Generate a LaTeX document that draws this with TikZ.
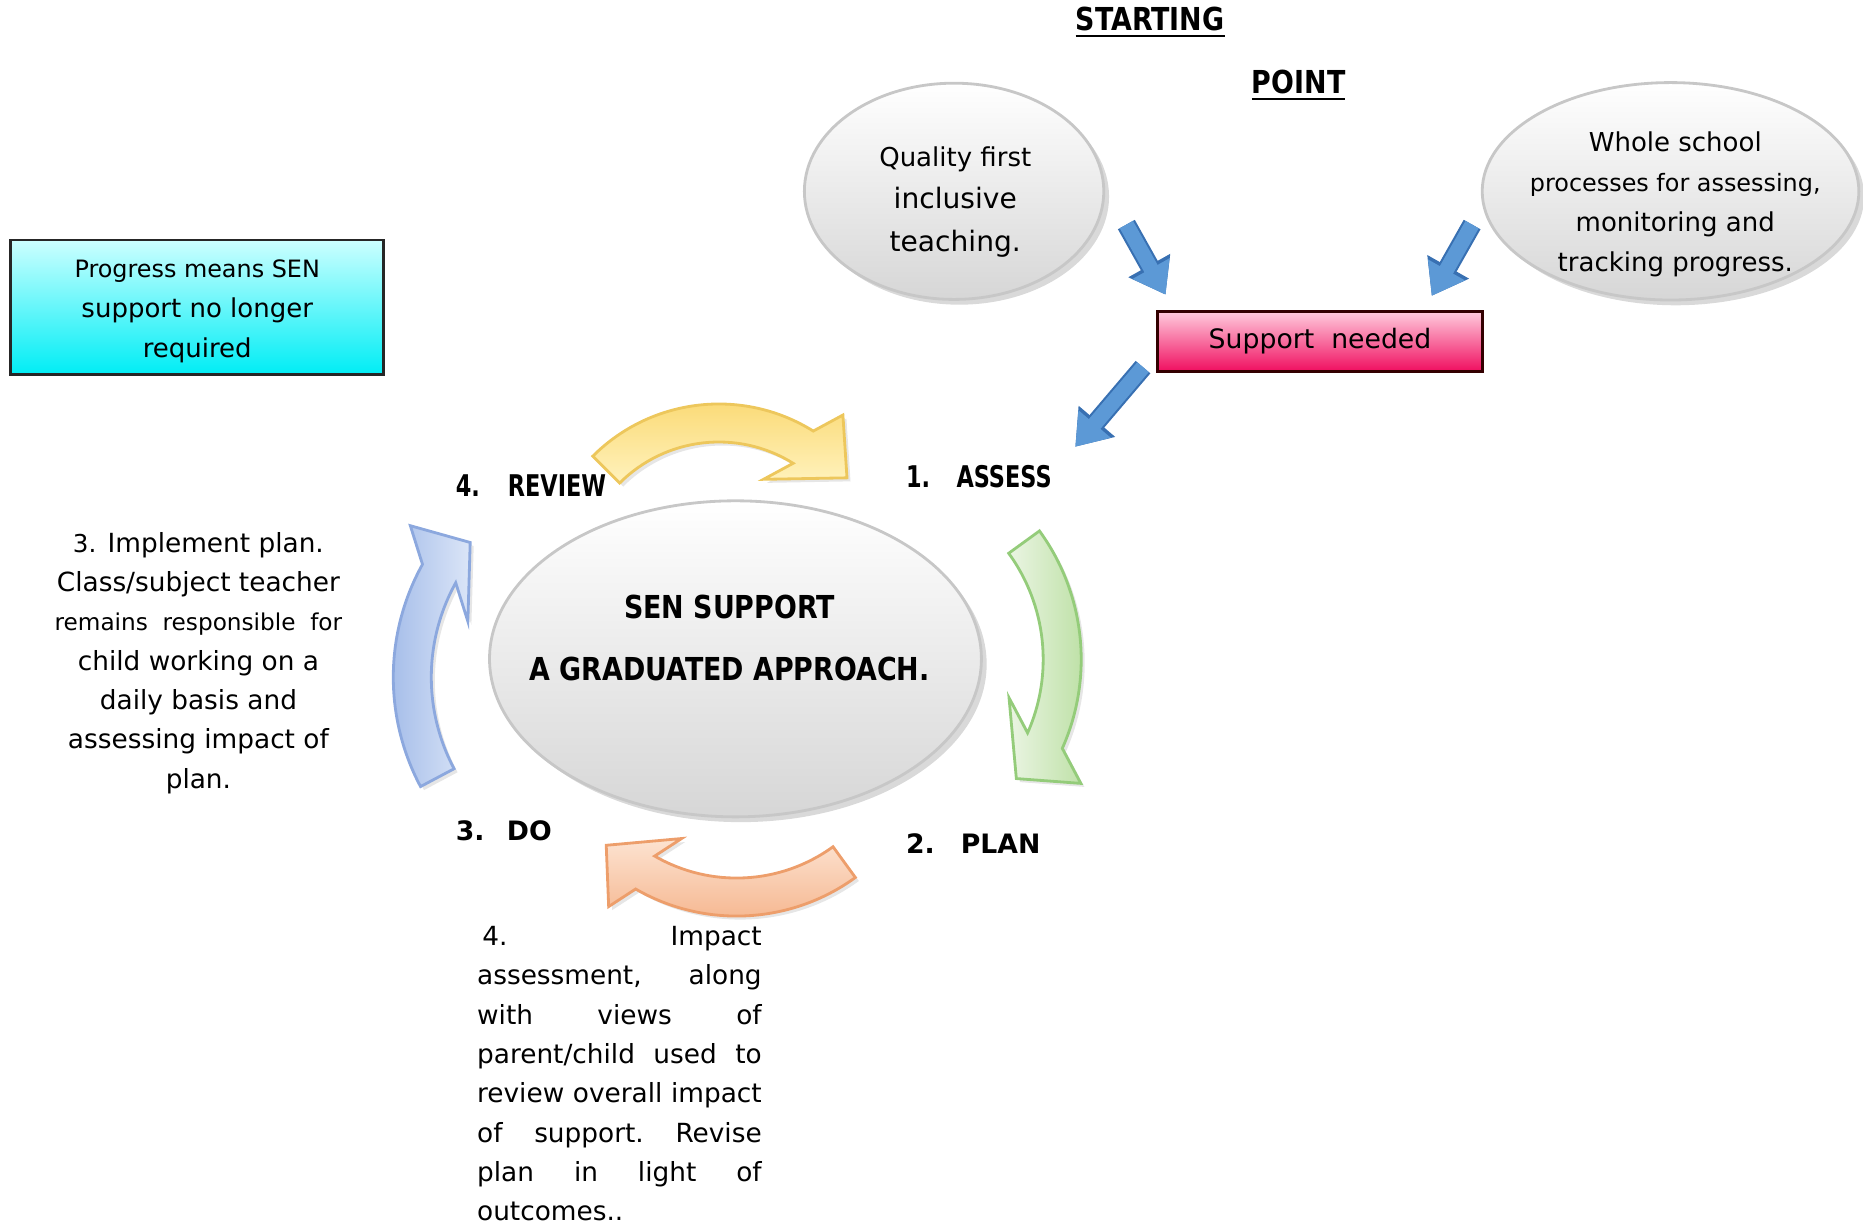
\documentclass[tikz,border=0pt]{standalone}
\usepackage{fontspec}
\setmainfont{DejaVu Sans}
\newfontfamily\headfont[FakeStretch=0.85]{DejaVu Sans}
\newfontfamily\stepfont[FakeStretch=0.75]{DejaVu Sans}
\usetikzlibrary{shapes.geometric, shadows, calc, positioning, arrows.meta}
\definecolor{bubbleedge}{rgb}{0.78, 0.78, 0.78}
\definecolor{bubblelow}{rgb}{0.84, 0.84, 0.84}
\definecolor{needtop}{rgb}{1, 0.80, 0.87}
\definecolor{needbottom}{rgb}{0.94, 0.05, 0.37}
\definecolor{donetop}{rgb}{0.80, 1, 1}
\definecolor{donebottom}{rgb}{0, 0.93, 0.96}
\definecolor{yelhi}{rgb}{1, 0.95, 0.74}
\definecolor{yello}{rgb}{0.98, 0.84, 0.42}
\definecolor{yeledge}{rgb}{0.93, 0.78, 0.36}
\definecolor{grnhi}{rgb}{0.92, 0.96, 0.89}
\definecolor{grnlo}{rgb}{0.72, 0.87, 0.62}
\definecolor{grnedge}{rgb}{0.58, 0.80, 0.48}
\definecolor{orghi}{rgb}{0.99, 0.89, 0.82}
\definecolor{orglo}{rgb}{0.96, 0.70, 0.54}
\definecolor{orgedge}{rgb}{0.93, 0.62, 0.42}
\definecolor{bluhi}{rgb}{0.86, 0.90, 0.97}
\definecolor{blulo}{rgb}{0.63, 0.73, 0.91}
\definecolor{bluedge}{rgb}{0.55, 0.66, 0.87}
\definecolor{ptrfill}{rgb}{0.36, 0.60, 0.84}
\definecolor{ptredge}{rgb}{0.22, 0.44, 0.70}

\newcommand{\upx}{0.01188cm}
\newcommand{\bandw}{16}
% curved block arrow: [style]{centre}{radius}{tail angle}{head angle}{barb half width}{barb angle}{tip angle}{tip length}
\newcommand{\cyclearrow}[9][]{%
  \pgfmathsetmacro\arcout{#3+\bandw}%
  \pgfmathsetmacro\arcin{#3-\bandw}%
  \pgfmathsetmacro\barbin{#7+180}%
  \path[#1] ($(#2)+(#4:\arcout)$) arc[start angle=#4, end angle=#5, radius=\arcout]
    -- ($(#2)+(#5:#3)+(#7:#6)$) -- ($(#2)+(#5:#3)+(#8:#9)$)
    -- ($(#2)+(#5:#3)+(\barbin:#6)$) -- ($(#2)+(#5:\arcin)$)
    arc[start angle=#5, end angle=#4, radius=\arcin] -- cycle;}

\begin{document}
\begin{tikzpicture}[x=\upx, y=-\upx,
    bubble/.style={ellipse, draw=bubbleedge, line width=0.8pt, top color=white, bottom color=bubblelow,
      drop shadow={opacity=0.3, shadow xshift=1.5pt, shadow yshift=-1.5pt}, inner sep=0pt},
    bodytext/.style={align=center, inner sep=0pt},
    title/.style={inner sep=0pt, font=\headfont\bfseries\fontsize{9}{11}\selectfont},
    steplabel/.style={anchor=west, inner sep=0pt, font=\stepfont\bfseries\fontsize{8.5}{10}\selectfont},
    steplabelwide/.style={anchor=west, inner sep=0pt, font=\bfseries\fontsize{7.6}{10}\selectfont},
    cyc/.style={line width=0.8pt, drop shadow={opacity=0.2, shadow xshift=1pt, shadow yshift=-1pt}},
    yelarrow/.style={cyc, draw=yeledge, top color=yello, bottom color=yelhi},
    grnarrow/.style={cyc, draw=grnedge, left color=grnhi, right color=grnlo},
    orgarrow/.style={cyc, draw=orgedge, top color=orghi, bottom color=orglo},
    bluarrow/.style={cyc, draw=bluedge, left color=blulo, right color=bluhi},
    pointer/.style={line width=4.3pt, draw=ptrfill, -{Triangle[length=8.5pt, width=11.5pt]},
      preaction={draw=ptredge, line width=5.5pt, -{Triangle[length=9.5pt, width=13pt]}}}]
    \useasboundingbox (0,0) rectangle (1568,1034);

    \node[title] (start) at (968,19) {\underline{STARTING}};
    \node[title] (point) at (1093,72) {\underline{POINT}};

    \node[bubble, minimum width=252*\upx, minimum height=182*\upx] (qft) at (803,161) {};
    \node[bodytext, font=\fontsize{8}{12.2}\selectfont] (qfttext) at (804,170)
        {{\fontsize{7.4}{12.2}\selectfont Quality first}\\inclusive\\teaching.};
    \node[bubble, minimum width=317*\upx, minimum height=183*\upx] (wsp) at (1406,161) {};
    \node[bodytext, font=\fontsize{7.4}{11.4}\selectfont] (wsptext) at (1410,172)
        {Whole school\\{\fontsize{6.8}{11.4}\selectfont processes for assessing,}\\monitoring and\\tracking progress.};

    \node[draw=black!80!red, line width=0.8pt, top color=needtop, bottom color=needbottom,
        minimum width=273*\upx, minimum height=51*\upx, inner sep=0pt,
        font=\fontsize{7.6}{10}\selectfont] (need) at (1111,287.5) {Support\ \ needed};
    \node[draw=black!85, line width=0.8pt, top color=donetop, bottom color=donebottom,
        minimum width=314*\upx, minimum height=113*\upx, inner sep=0pt, align=center,
        font=\fontsize{7.4}{11.3}\selectfont] (done) at (166,258.5) {};
    \node[bodytext, font=\fontsize{7.4}{11.3}\selectfont] (donetext) at (166,262)
        {{\fontsize{6.8}{11.3}\selectfont Progress means SEN}\\support no longer\\required};

    \coordinate (qfttail) at (948,189);
    \coordinate (qfthead) at (981,248);
    \coordinate (wsptail) at (1239,189);
    \coordinate (wsphead) at (1205,249);
    \coordinate (needtail) at (962,309);
    \coordinate (needhead) at (905,376);
    \draw[pointer] (qfttail) -- (qfthead);
    \draw[pointer] (wsptail) -- (wsphead);
    \draw[pointer] (needtail) -- (needhead);

    \node[bubble, minimum width=414*\upx, minimum height=266*\upx] (sen) at (619,554.5) {};
    \node[bodytext, font=\headfont\bfseries\fontsize{9}{17.9}\selectfont] (sentext) at (614,537)
        {SEN SUPPORT\\A GRADUATED APPROACH.};

    \cyclearrow[yelarrow]{605,490}{134}{225}{302}{43}{321}{35}{45}
    \cyclearrow[grnarrow]{726,555}{168}{-36}{24}{47}{50}{127}{40}
    \cyclearrow[orgarrow]{620,601}{154}{54}{120}{42}{137}{215}{40}
    \cyclearrow[bluarrow]{527,570}{180}{152}{209}{47}{239}{315}{37}

    \node[steplabel] (assess) at (762,401) {1.\hspace{7.5pt}ASSESS};
    \node[steplabelwide] (plan) at (762,710) {2.\hspace{7.4pt}PLAN};
    \node[steplabelwide] (do) at (383,699) {3.\hspace{6.4pt}DO};
    \node[steplabel] (review) at (383,409) {4.\hspace{8pt}REVIEW};

    \node[bodytext, font=\fontsize{7.5}{11.2}\selectfont] (dotext) at (167,558)
        {{\fontsize{7}{11.2}\selectfont 3.} Implement plan.\\Class/subject teacher\\
         {\fontsize{6.6}{11.2}\selectfont remains\ \ responsible\ \ for}\\child working on a\\
         daily basis and\\assessing impact of\\plan.};
    \node[anchor=north west, inner sep=0pt, align=left, font=\frenchspacing\fontsize{7.5}{11.2}\selectfont] (reviewtext) at (401,779)
        {\makebox[81pt][s]{\kern1.5pt 4. Impact}\\
         \makebox[81pt][s]{assessment, along}\\
         \makebox[81pt][s]{with views of}\\
         \makebox[81pt][s]{parent/child used to}\\
         \makebox[81pt][s]{review overall impact}\\
         \makebox[81pt][s]{of support. Revise}\\
         \makebox[81pt][s]{plan in light of}\\
         outcomes..};
\end{tikzpicture}
\end{document}
